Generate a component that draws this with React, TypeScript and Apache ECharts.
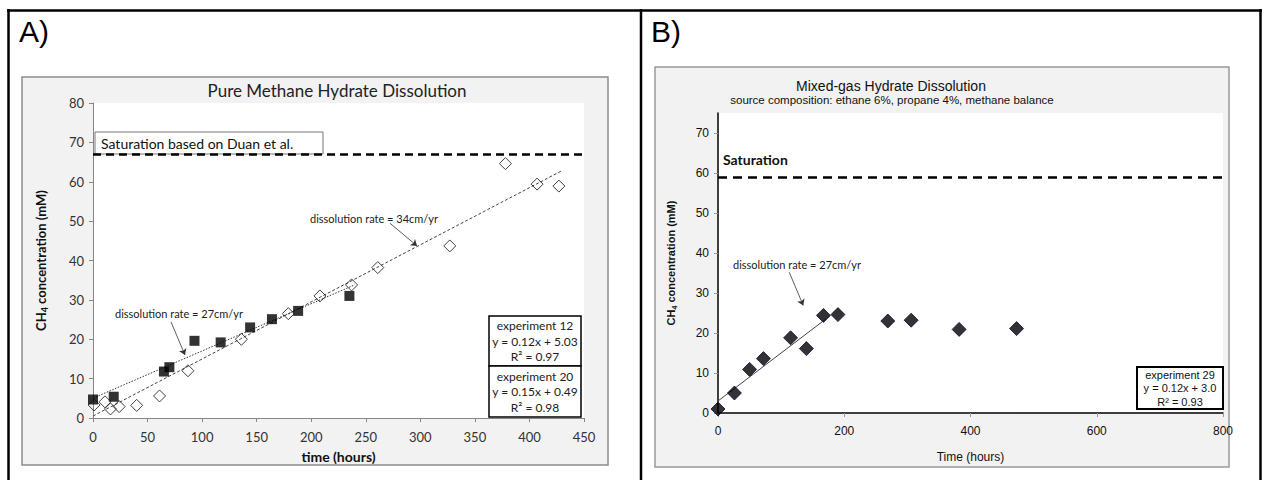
import React, { useEffect, useRef } from "react";
import * as echarts from "echarts";

// ---- Panel A: pure methane hydrate dissolution ----
const exp12Time = [0, 19, 65, 70, 93, 117, 144, 164, 188, 235];
const exp12Conc = [4.7, 5.4, 11.8, 12.9, 19.6, 19.2, 23.0, 25.1, 27.2, 31.0];
const exp20Time = [1, 11, 16, 24, 40, 61, 87, 136, 179, 208, 237, 261, 327, 378, 407, 427];
const exp20Conc = [3.3, 4.1, 2.3, 2.9, 3.2, 5.6, 12.0, 20.0, 26.5, 31.0, 33.8, 38.2, 43.7, 64.6, 59.4, 58.9];
const fit12 = [0.12, 5.03]; // slope, intercept
const fit12Range = [0, 240];
const fit20 = [0.145, 0.49];
const fit20Range = [0, 430];
const saturationA = 67;
const xTicksA = [0, 450, 50]; // min, max, interval
const yTicksA = [0, 80, 10];

// ---- Panel B: mixed-gas hydrate dissolution ----
const exp29Time = [0, 26, 50, 72, 115, 140, 167, 190, 269, 306, 382, 473];
const exp29Conc = [1.0, 5.0, 10.9, 13.6, 18.8, 16.1, 24.4, 24.6, 23.0, 23.2, 20.9, 21.1];
const fit29 = [0.12, 3.0];
const fit29Range = [0, 170];
const saturationB = 59;
const xTicksB = [0, 800, 200];
const yTicksB = [0, 75, 10];

const CAL = "Lato, 'Open Sans', sans-serif";
const ARI = "'Liberation Sans', Arial, sans-serif";

const pairs = (xs: number[], ys: number[]) => xs.map((x, i) => [x, ys[i]]);
const fitLine = (f: number[], r: number[]) => r.map((x) => [x, f[0] * x + f[1]]);

export default function App() {
  const ref = useRef<HTMLDivElement>(null);
  useEffect(() => {
    if (!ref.current) return;
    const chart = echarts.init(ref.current, undefined, { renderer: "svg" });

    const richName = (font: string, size: number) => ({
      a: { fontFamily: font, fontWeight: "bold", fontSize: size, color: "#111", lineHeight: size + 4 },
      b: { fontFamily: font, fontWeight: "bold", fontSize: size - 4, color: "#111", lineHeight: size - 2, verticalAlign: "bottom" },
    });

    const arrowLine = (from: number[], to: number[]) => ({
      type: "scatter",
      xAxisIndex: 0,
      yAxisIndex: 0,
      data: [],
      silent: true,
      markLine: {
        silent: true,
        symbol: ["none", "arrow"],
        symbolSize: 6,
        label: { show: false },
        lineStyle: { color: "#333", width: 0.8, type: "solid" },
        data: [[{ coord: from }, { coord: to }]],
      },
    });

    const option: any = {
      animation: false,
      grid: [
        { left: 93, top: 103, width: 491, height: 315, show: true, backgroundColor: "#fff", borderWidth: 0 },
        { left: 718, top: 113, width: 505, height: 300, show: true, backgroundColor: "#fff", borderWidth: 0 },
      ],
      xAxis: [
        {
          gridIndex: 0, type: "value", min: xTicksA[0], max: xTicksA[1], interval: xTicksA[2],
          name: "time (hours)", nameLocation: "middle", nameGap: 31,
          nameTextStyle: { fontFamily: CAL, fontWeight: "bold", fontSize: 14, color: "#111" },
          axisLine: { lineStyle: { color: "#868686", width: 1 } },
          axisTick: { show: true, length: 4, lineStyle: { color: "#868686" } },
          axisLabel: { fontFamily: CAL, fontSize: 13, color: "#333", margin: 12 },
          splitLine: { show: false },
        },
        {
          gridIndex: 1, type: "value", min: xTicksB[0], max: xTicksB[1], interval: xTicksB[2],
          name: "Time (hours)", nameLocation: "middle", nameGap: 38,
          nameTextStyle: { fontFamily: ARI, fontSize: 12, color: "#111" },
          axisLine: { lineStyle: { color: "#000", width: 1.5 } },
          axisTick: { show: true, length: 4, lineStyle: { color: "#999" } },
          axisLabel: { fontFamily: ARI, fontSize: 12, color: "#111", margin: 12 },
          splitLine: { show: false },
        },
      ],
      yAxis: [
        {
          gridIndex: 0, type: "value", min: yTicksA[0], max: yTicksA[1], interval: yTicksA[2],
          name: "{a|CH}{b|4}{a| concentration (mM)}", nameLocation: "middle", nameGap: 44,
          nameTextStyle: { rich: richName(CAL, 13) },
          axisLine: { show: true, lineStyle: { color: "#868686", width: 1 } },
          axisTick: { show: true, length: 4, lineStyle: { color: "#868686" } },
          axisLabel: { fontFamily: CAL, fontSize: 13, color: "#333", margin: 9 },
          splitLine: { show: false },
        },
        {
          gridIndex: 1, type: "value", min: yTicksB[0], max: yTicksB[1], interval: yTicksB[2],
          name: "{a|CH}{b|4}{a| concentration (mM)}", nameLocation: "middle", nameGap: 40,
          nameTextStyle: { rich: richName(ARI, 11) },
          axisLine: { show: true, lineStyle: { color: "#000", width: 1.5 } },
          axisTick: { show: true, length: 4, lineStyle: { color: "#999" } },
          axisLabel: { fontFamily: ARI, fontSize: 12, color: "#111", margin: 9, showMaxLabel: false },
          splitLine: { show: false },
        },
      ],
      series: [
        {
          name: "fit 12", type: "line", xAxisIndex: 0, yAxisIndex: 0, data: fitLine(fit12, fit12Range),
          showSymbol: false, silent: true, lineStyle: { color: "#333", width: 1, type: [1.5, 1.5] }, z: 1,
        },
        {
          name: "fit 20", type: "line", xAxisIndex: 0, yAxisIndex: 0, data: fitLine(fit20, fit20Range),
          showSymbol: false, silent: true, lineStyle: { color: "#444", width: 1, type: [3, 2] }, z: 1,
        },
        {
          name: "experiment 12", type: "scatter", xAxisIndex: 0, yAxisIndex: 0, data: pairs(exp12Time, exp12Conc),
          symbol: "rect", symbolSize: 10, itemStyle: { color: "#000" }, z: 3,
        },
        {
          name: "experiment 20", type: "scatter", xAxisIndex: 0, yAxisIndex: 0, data: pairs(exp20Time, exp20Conc),
          symbol: "diamond", symbolSize: 12,
          itemStyle: { color: "rgba(255,255,255,0)", borderColor: "#111", borderWidth: 1 }, z: 3,
          markLine: {
            silent: true, symbol: "none", label: { show: false },
            lineStyle: { color: "#000", width: 2.5, type: [8, 5] },
            data: [{ yAxis: saturationA }],
          },
        },
        arrowLine([272, 49.5], [297, 43.7]),
        arrowLine([71.5, 24.4], [84.3, 16.0]),
        {
          name: "fit 29", type: "line", xAxisIndex: 1, yAxisIndex: 1, data: fitLine(fit29, fit29Range),
          showSymbol: false, silent: true, lineStyle: { color: "#444", width: 1, type: "solid" }, z: 1,
        },
        {
          name: "experiment 29", type: "scatter", xAxisIndex: 1, yAxisIndex: 1, data: pairs(exp29Time, exp29Conc),
          symbol: "diamond", symbolSize: 14,
          itemStyle: { color: "#000", borderColor: "#0a0a40", borderWidth: 1 }, z: 3,
          markLine: {
            silent: true, symbol: "none", label: { show: false },
            lineStyle: { color: "#000", width: 2.5, type: [9, 6] },
            data: [{ yAxis: saturationB }],
          },
        },
        {
          type: "scatter", xAxisIndex: 1, yAxisIndex: 1, data: [], silent: true,
          markLine: {
            silent: true, symbol: ["none", "arrow"], symbolSize: 6, label: { show: false },
            lineStyle: { color: "#333", width: 0.8, type: "solid" },
            data: [[{ coord: [112.8, 35.2] }, { coord: [135, 26.9] }]],
          },
        },
      ],
      graphic: [
        {
          elements: [
            // chart backgrounds
            { type: "rect", z: -10, shape: { x: 22, y: 77, width: 586, height: 388 }, style: { fill: "#f2f2f2", stroke: "#8c8c8c", lineWidth: 1.5 } },
            { type: "rect", z: -10, shape: { x: 655, y: 67, width: 574, height: 400 }, style: { fill: "#f2f2f2", stroke: "#9a9a9a", lineWidth: 1.5 } },
            // outer frame
            { type: "line", shape: { x1: 7, y1: 10.5, x2: 1262, y2: 10.5 }, style: { stroke: "#000", lineWidth: 2.5 } },
            { type: "line", shape: { x1: 8.5, y1: 9, x2: 8.5, y2: 480 }, style: { stroke: "#000", lineWidth: 2.5 } },
            { type: "line", shape: { x1: 641, y1: 9, x2: 641, y2: 480 }, style: { stroke: "#000", lineWidth: 2.5 } },
            { type: "line", shape: { x1: 1260.5, y1: 9, x2: 1260.5, y2: 480 }, style: { stroke: "#000", lineWidth: 2.5 } },
            // panel letters
            { type: "text", x: 19, y: 31, style: { text: "A)", font: `30px ${ARI}`, fill: "#000", verticalAlign: "middle" } },
            { type: "text", x: 651, y: 31, style: { text: "B)", font: `30px ${ARI}`, fill: "#000", verticalAlign: "middle" } },
            // panel A texts
            { type: "text", x: 337, y: 90, style: { text: "Pure Methane Hydrate Dissolution", font: `17px ${CAL}`, fill: "#222", align: "center", verticalAlign: "middle" } },
            { type: "rect", z: 5, shape: { x: 95, y: 132, width: 228, height: 22 }, style: { fill: "#fff", stroke: "#777", lineWidth: 1 } },
            { type: "text", z: 6, x: 101, y: 143, style: { text: "Saturation based on Duan et al.", font: `14px ${CAL}`, fill: "#111", verticalAlign: "middle" } },
            { type: "text", x: 310, y: 218, style: { text: "dissolution rate = 34cm/yr", font: `11px ${CAL}`, fill: "#222", verticalAlign: "middle" } },
            { type: "text", x: 115, y: 313, style: { text: "dissolution rate = 27cm/yr", font: `11px ${CAL}`, fill: "#222", verticalAlign: "middle" } },
            { type: "rect", z: 5, shape: { x: 489, y: 316, width: 92, height: 50 }, style: { fill: "#fff", stroke: "#000", lineWidth: 1.5 } },
            { type: "rect", z: 5, shape: { x: 489, y: 366, width: 92, height: 51 }, style: { fill: "#fff", stroke: "#000", lineWidth: 1.5 } },
            { type: "text", z: 6, x: 535, y: 341, style: { text: "experiment 12\ny = 0.12x + 5.03\nR² = 0.97", font: `12px ${CAL}`, lineHeight: 15.5, fill: "#222", align: "center", verticalAlign: "middle" } },
            { type: "text", z: 6, x: 535, y: 391.5, style: { text: "experiment 20\ny = 0.15x + 0.49\nR² = 0.98", font: `12px ${CAL}`, lineHeight: 15.5, fill: "#222", align: "center", verticalAlign: "middle" } },
            // panel B texts
            { type: "text", x: 891, y: 86, style: { text: "Mixed-gas Hydrate Dissolution", font: `14px ${ARI}`, fill: "#111", align: "center", verticalAlign: "middle" } },
            { type: "text", x: 892, y: 100, style: { text: "source composition: ethane 6%, propane 4%, methane balance", font: `11.5px ${ARI}`, fill: "#111", align: "center", verticalAlign: "middle" } },
            { type: "text", x: 723, y: 159, style: { text: "Saturation", font: `bold 14px ${CAL}`, fill: "#111", verticalAlign: "middle" } },
            { type: "text", x: 733, y: 264, style: { text: "dissolution rate = 27cm/yr", font: `11px ${CAL}`, fill: "#222", verticalAlign: "middle" } },
            { type: "rect", z: 5, shape: { x: 1137, y: 367, width: 86, height: 42 }, style: { fill: "#fff", stroke: "#000", lineWidth: 2 } },
            { type: "text", z: 6, x: 1180, y: 388, style: { text: "experiment 29\ny = 0.12x + 3.0\nR² = 0.93", font: `11px ${ARI}`, lineHeight: 13.5, fill: "#111", align: "center", verticalAlign: "middle" } },
          ],
        },
      ],
    };

    chart.setOption(option);
    return () => chart.dispose();
  }, []);

  return <div ref={ref} style={{ position: "absolute", left: 0, top: 0, width: 1262, height: 480 }} />;
}
